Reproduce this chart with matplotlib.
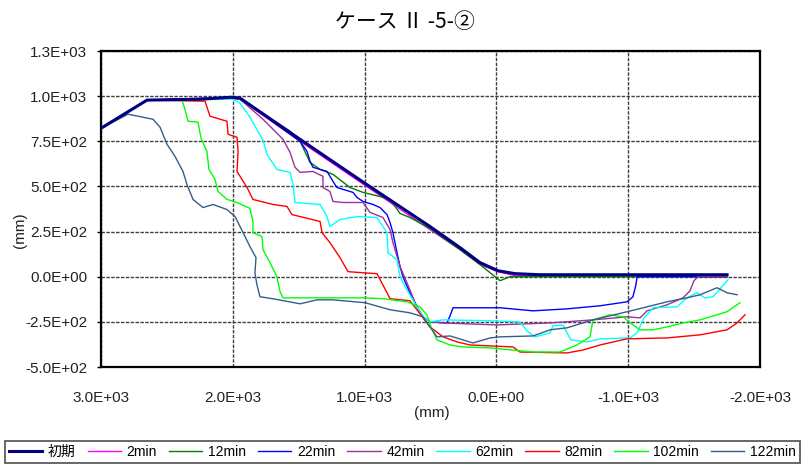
import matplotlib
matplotlib.use("Agg")
import matplotlib.pyplot as plt
from matplotlib.ticker import FixedLocator

plt.rcParams['font.family'] = ['Liberation Sans', 'Noto Sans CJK JP', 'DejaVu Sans']

title = "ケース Ⅱ -5-②"
x_ticks = [3000, 2000, 1000, 0, -1000, -2000]
x_tick_labels = ["3.0E+03", "2.0E+03", "1.0E+03", "0.0E+00", "-1.0E+03", "-2.0E+03"]
y_ticks = [1250, 1000, 750, 500, 250, 0, -250, -500]
y_tick_labels = ["1.3E+03", "1.0E+03", "7.5E+02", "5.0E+02", "2.5E+02", "0.0E+00", "-2.5E+02", "-5.0E+02"]
series_names = ["初期", "2min", "12min", "22min", "42min", "62min", "82min", "102min", "122min"]
series_colors = ["#000080", "#FF00FF", "#008000", "#0000FF", "#993399", "#00FFFF", "#FF0000", "#00FF00", "#335E8A"]

init_x = [3000, 2651, 2249, 2006, 1945, 1490, 997, 504, 276, 124, -12, -141, -331, -1750]
init_y = [822, 978, 983, 994, 989, 761, 517, 278, 161, 78, 33, 17, 11, 11]

m2_x = [3000, 2651, 2006, 1945, 1490, 997, 504, 276, 124, -12, -141, -1750]
m2_y = [822, 978, 989, 983, 750, 506, 261, 150, 67, 28, 6, 6]

m12_x = [3000, 2651, 2006, 1945, 1566, 1490, 1414, 1338, 1240, 1111, 1012, 883, 807, 731, 656, 504, 276, 124, 0, -28, -103, -1750]
m12_y = [822, 978, 989, 983, 806, 750, 633, 594, 567, 494, 467, 444, 428, 350, 328, 267, 150, 67, -6, -22, 0, 0]

m22_x = [3000, 2651, 2006, 1945, 1490, 1437, 1414, 1392, 1285, 1240, 1210, 1088, 1058, 1012, 936, 883, 830, 807, 785, 754, 731, 709, 656, 603, 557, 504, 375, 352, 329, -28, -278, -536, -786, -991, -1036, -1059, -1067, -1750]
m22_y = [822, 978, 994, 989, 750, 694, 639, 606, 583, 528, 494, 467, 439, 417, 400, 383, 344, 300, 244, 133, 56, 0, -89, -167, -222, -250, -256, -217, -172, -172, -189, -178, -161, -139, -111, -44, 0, 0]

m42_x = [3000, 2651, 2006, 1945, 1771, 1619, 1566, 1528, 1490, 1392, 1316, 1316, 1263, 1240, 1164, 1012, 959, 861, 807, 785, 731, 679, 603, 557, 504, 405, -3, -407, -733, -991, -1090, -1143, -1294, -1416, -1469, -1499, -1530, -1750]
m42_y = [822, 978, 989, 983, 872, 761, 689, 606, 578, 583, 556, 494, 472, 417, 411, 411, 356, 328, 261, 189, 56, -33, -167, -222, -250, -256, -267, -256, -239, -222, -228, -189, -156, -117, -78, -22, 0, 0]

m62_x = [3000, 2651, 1999, 1945, 1870, 1771, 1741, 1665, 1566, 1543, 1528, 1338, 1285, 1263, 1187, 1058, 906, 830, 823, 754, 731, 679, 603, 557, 504, 405, 48, -179, -232, -293, -407, -429, -505, -536, -566, -687, -786, -1014, -1067, -1120, -1188, -1370, -1446, -1522, -1583, -1644, -1697, -1757]
m62_y = [822, 978, 983, 961, 883, 756, 678, 594, 578, 511, 411, 400, 333, 278, 317, 333, 328, 244, 133, 94, 0, -72, -167, -222, -250, -239, -244, -250, -300, -333, -311, -272, -267, -311, -350, -361, -344, -339, -311, -228, -172, -167, -117, -89, -117, -111, -67, -17]

m82_x = [3000, 2651, 2211, 2173, 2044, 2036, 1968, 1960, 1968, 1892, 1847, 1695, 1589, 1551, 1490, 1338, 1323, 1263, 1187, 1126, 1012, 906, 830, 807, 656, 603, 557, 504, 405, 299, 200, -126, -179, -536, -657, -786, -991, -1294, -1545, -1750, -1826, -1886]
m82_y = [822, 978, 972, 889, 861, 789, 772, 694, 583, 494, 428, 400, 389, 344, 333, 306, 244, 189, 106, 28, 22, 17, -89, -122, -133, -183, -228, -278, -333, -361, -378, -389, -417, -422, -406, -378, -344, -339, -322, -294, -256, -211]

m102_x = [3000, 2651, 2386, 2363, 2340, 2264, 2241, 2196, 2181, 2135, 2112, 2044, 1968, 1870, 1847, 1847, 1778, 1771, 1718, 1665, 1642, 1619, 1240, 997, 861, 679, 580, 527, 496, 451, 352, 253, 48, -278, -482, -611, -710, -733, -862, -961, -1036, -1090, -1188, -1294, -1416, -1545, -1674, -1750, -1848]
m102_y = [822, 978, 978, 928, 861, 856, 767, 694, 594, 539, 472, 428, 411, 378, 306, 244, 222, 150, 78, 0, -83, -117, -117, -117, -122, -139, -167, -211, -278, -350, -378, -389, -394, -417, -417, -378, -333, -239, -211, -222, -267, -294, -294, -278, -256, -239, -211, -194, -144]

m122_x = [3000, 2795, 2605, 2552, 2499, 2439, 2378, 2348, 2302, 2226, 2150, 2044, 1983, 1945, 1907, 1870, 1824, 1832, 1817, 1794, 1695, 1490, 1361, 1240, 997, 807, 656, 557, 504, 451, 352, 253, 178, 48, -28, -278, -407, -536, -733, -991, -1143, -1294, -1446, -1545, -1674, -1750, -1826]
m122_y = [822, 900, 872, 828, 733, 667, 583, 511, 428, 383, 400, 372, 333, 278, 222, 167, 106, 22, -44, -111, -122, -150, -128, -128, -144, -183, -200, -222, -278, -333, -328, -350, -367, -339, -333, -328, -294, -283, -239, -194, -167, -139, -117, -100, -61, -89, -100]

series_x = [init_x, m2_x, m12_x, m22_x, m42_x, m62_x, m82_x, m102_x, m122_x]
series_y = [init_y, m2_y, m12_y, m22_y, m42_y, m62_y, m82_y, m102_y, m122_y]

fig = plt.figure(figsize=(8.01, 4.65), dpi=100)
ax = fig.add_axes([101/801, 1-367/465, (760-101)/801, (367-51)/465])

for i, (name, xs, ys, c) in enumerate(zip(series_names, series_x, series_y, series_colors)):
    if i == 0:
        ax.plot(xs, ys, color=c, lw=2.2, label=name, zorder=10)
    else:
        ax.plot(xs, ys, color=c, lw=1.0, label=name, zorder=3)

ax.set_xlim(3000, -2000)
ax.set_ylim(-500, 1250)
ax.xaxis.set_major_locator(FixedLocator(x_ticks))
ax.set_xticklabels(x_tick_labels)
ax.yaxis.set_major_locator(FixedLocator(y_ticks))
ax.set_yticklabels(y_tick_labels)
ax.tick_params(axis='x', length=0, pad=17, labelsize=11, colors='#222222')
ax.tick_params(axis='y', length=3, width=1, pad=7, labelsize=11, colors='#222222')
ax.tick_params(axis='y', color='black')
ax.grid(True, color='#404040', linestyle=(0, (2.5, 1)), linewidth=1.0, zorder=1)
ax.set_axisbelow(True)
for s in ax.spines.values():
    s.set_linewidth(1.6)
    s.set_color('black')

fig.text(405/801, 1-22/465, title, ha='center', va='center', fontsize=15,
         family=['Noto Sans CJK JP', 'DejaVu Sans'])
fig.text(432/801, 1-413/465, "(mm)", ha='center', va='center', fontsize=11, color='#222222')
fig.text(20/801, 1-230/465, "(mm)", ha='center', va='center', fontsize=11, rotation=90, color='#222222')

leg = fig.legend(loc='lower left', bbox_to_anchor=(5/801, 2/465, 795/801, 27/465), mode='expand',
                 ncol=9, fontsize=10, frameon=True, fancybox=False, handlelength=2.4,
                 handletextpad=0.4, columnspacing=0.8, borderaxespad=0, borderpad=0.3)
leg.get_frame().set_edgecolor('#333333')
leg.get_frame().set_linewidth(1.3)

fig.savefig("out.png", dpi=100)
